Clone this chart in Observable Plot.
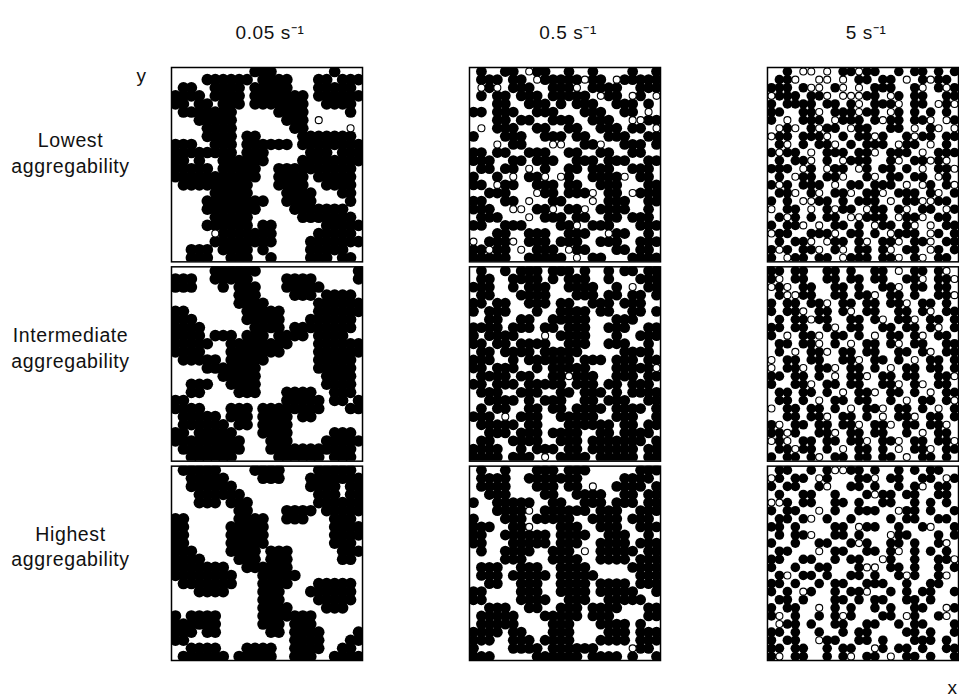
<!DOCTYPE html>
<html>
<head>
<meta charset="utf-8">
<script src="https://cdn.jsdelivr.net/npm/d3@7"></script>
<script src="https://cdn.jsdelivr.net/npm/@observablehq/plot@0.6"></script>
<style>
  html, body { margin: 0; padding: 0; background: #fff; overflow: hidden; }
  #chart { width: 959px; height: 697px; }
</style>
</head>
<body>
<div id="chart"></div>
<script>
// Facet categories
const shearRates = ["0.05 s⁻¹", "0.5 s⁻¹", "5 s⁻¹"];
const aggregability = ["Lowest\naggregability", "Intermediate\naggregability", "Highest\naggregability"];
const axisLabels = ["y", "x"];

// Particle maps: '#' aggregated (filled) particle, 'o' free (open) particle, '.' empty
const lowest_005 = [
  "..........###.......#...",
  "....######.####...##.###",
  ".##..####.#####...#####.",
  "####.####.#######.######",
  "##.##.###.#######..####.",
  ".#######.....####.....#.",
  "...#####......###.o.....",
  "....####.......##.....o.",
  "....####.##.....#######.",
  "###..###.######.########",
  "########.###.....###.###",
  "##.#..######....########",
  "#####.#####..##########.",
  "###########..####.#####.",
  ".#########...####..####.",
  ".....#####....####...##.",
  "....########..####....#.",
  "....#######....#######..",
  ".....#####......#######.",
  "....######.##......#####",
  ".....o#######.....#####.",
  ".....########....#######",
  "..###.####.#.....#####..",
  "..###..###..#....###.##."
];
const lowest_05 = [
  ".#..##.o##..#..#....#..#",
  ".###.##.o#####o##.o#####",
  ".o#o.###..###o.####..###",
  ".#.##.###.#####.o##.o#.o",
  "...##..###.#.###..###.#.",
  "##.###..###...###..##.o.",
  "...##.##..###..###..oo##",
  ".o.###..##..##..###.##.o",
  "#...###..###.##..###..##",
  "...o.##...oo..##o..###.#",
  "##.##..###..##..##..##..",
  "###..##.###..###.###..##",
  ".##.##.o.#..##.###..###.",
  "#..#.o.##o.o#..####o.##.",
  "##.o##..###.##..###...##",
  "..###...o##.###o.##.o###",
  "##..##.o..##...o.###..##",
  "###..oo.##o.##o.####..#.",
  ".###...o.###.##..##.###.",
  "##..###....##o.###...###",
  "...##..###..###..o##..#.",
  "o.###o.###.###..###..###",
  "##o##.o.###.o##...##.##.",
  "#####..#####.o.##...####"
];
const lowest_5 = [
  "..#.oo.o.##o##..#.##.#.#",
  ".##o..oo.o.##.##.o.#o##.",
  "###.#oo.#o.o.###..#o.#o#",
  "o###.##o.ooo##.o#.##..##",
  "#.####.##.#o.###o.##.o#o",
  "##..##o.###o##.o#.#.#.#.",
  "#.o.###.o###.#o##.##o.o#",
  ".o#o.#o##.o##..##.o.#o.o",
  "o##.###o.#.##o#..#o##.##",
  ".#o.#.##o.#.###.o##.o.#.",
  "#o##.o.###.##o.###.o.###",
  ".#.##o.#.o###..#o.##o#o.",
  "###.o#.o##.o#.##.#.o.##o",
  ".#.o##.##o..#o.##.##.o#.",
  "#o#.###.o.##.###.o.o#.#o",
  ".##o.#o.##o.##o.###.#o.#",
  "#.#.oo##.#.###.o.##oo##.",
  "o.##.o.#o##.o##.#o.##.o#",
  ".#o#.#.##.oo###.o##o.##.",
  "#.##o.o.##.#.o##.#o.o.##",
  "o##..###o.##.#.o###.o#.#",
  ".#.##o.o##.#o.##o.##o.##",
  "#o#.##o.#o.##.#o.##.o#.#",
  "#.o##.##.o###.##o.#o.##."
];
const intermediate_005 = [
  ".....######............#",
  "###..#####....####.....#",
  "###...#.###...#####.....",
  "........###....###.####.",
  "........####......######",
  "##.......#####....######",
  "###......#####...######.",
  "####......####.########.",
  "####.###.###.####.####..",
  "#####..########...######",
  "####...#######....######",
  ".#####.#####......#####.",
  "....#######.......#####.",
  "......#####........####.",
  "..###..####........####.",
  "..##....###...####..###.",
  "##............#####.##.#",
  "####...###.########...##",
  ".#####.###.####.##......",
  ".######.##.####.........",
  "##.#####...####.....###.",
  "#########...###....#####",
  ".########...###########.",
  "..######.....######.###."
];
const intermediate_05 = [
  ".#..#.###.###.#..#.##.##",
  ".##..####.#.###..#...###",
  "###..#.###..####..#.o.##",
  ".##...####...###.##.##.#",
  "##.##..###.##..###.###..",
  "#.###...#..####.##..##.#",
  "..##..##..#####...###...",
  "####.###.##.###..###..##",
  "#.####...o.####...#..###",
  "##.##.####..###..###..#.",
  ".##.####.#####.....####.",
  "###..#.######.###.###.##",
  "##.###..#.#####...#####o",
  ".####.##..##o###..###.##",
  "##.###.#####.###.##.###.",
  ".###..###..##.###.#.####",
  "..####.#.###..##.###..##",
  ".#.##..##.##.####.####.#",
  "###.o.###..#####..###..#",
  ".#####.##...######.##.##",
  "..###.###.####..##.####.",
  ".##..####..###.#######.#",
  "####..#.###.##.######.##",
  "####.###.o.####.#####.##"
];
const intermediate_5 = [
  "##.##..##.#..##.o.##.#o.",
  "#o.##..##.##.##..##o.##o",
  "o#o.##..##.#..##o.##.##.",
  ".#oo##..##.##o.##.#..##o",
  "#.##.##o.##.##.##o.##.#.",
  "#.##o.##.#o.##..##.#o.##",
  ".#.##o##..##.#o.##o.##.#",
  "##.##..#o.##..##.##.#o.#",
  "#.o.##o.##.#.o.##.#o.##.",
  ".##.##o.#.o.##.#o.##..##",
  ".#.o.##o.##.##..##.#o.##",
  "o.##.##..##o.##.#.o.##.#",
  "o.##o.##o.##.#.o.##.##.#",
  "##.##.#.o.##o.##.##..##o",
  "#..##o.##.##..##o.#o.##.",
  ".##.##.#.o.##o.##.#.o.##",
  ".##.#.o.##.##..#.o.##.#o",
  "o.##.##.#.o.##o.##.#.o.#",
  "..##.##o.##.#.o.##o.##.#",
  "#o.##.##.##o.##o.##.##o.",
  "##o#..##o.##.##..#.o.##.",
  "o#o.##.##.##o.##o.##.##o",
  ".##o##.#.o.##.#.o.##o.##",
  "#.##.#o.##.##.##.o.##.#."
];
const highest_005 = [
  ".#####....####....#####.",
  "..#####....###...#######",
  "..######.........####.##",
  "...######.........###.##",
  "...###.###........######",
  "........##....####.#####",
  "##......####..###...###.",
  "##.....#####........####",
  "##.....#####........####",
  "##.....#####........###.",
  "###....####.###......###",
  "####....###.###......##.",
  "#######..######.........",
  "########...#####........",
  ".#######...####...#####.",
  "...####....###...######.",
  "...........###....#####.",
  "...........####....###..",
  "#.####.....#######......",
  "######.....###.###......",
  "###.##......##.####....#",
  "##.............####...##",
  "..####...####..####..##.",
  ".######.#####..###..####"
];
const highest_05 = [
  ".#..#...###.###......###",
  ".####..#######.....####.",
  ".####...###.##.o..####.#",
  "..###....##..####..##.##",
  "#..#####..##..###.###.##",
  "...####o.######.###..###",
  "#...###.#####..####.###.",
  "###..##o...###..###..###",
  "##..######.####..###..#.",
  "##...#####.###..####.###",
  ".#..####..###.o.#####.##",
  "....###...####..####.###",
  ".###..###..####.....####",
  ".###.#####.#####.....###",
  "..##..###..####.####.###",
  "##....###..####.#####..#",
  "##....####..###..#####..",
  "..###..##..###.####...##",
  ".#####...#####.###....##",
  ".#####....###...####.#..",
  "####.##...###....###.###",
  "###..###.####...####.###",
  "#....####.######....o##.",
  "###.....######.####.#..#"
];
const highest_5 = [
  ".##..#.#oo##.#..#.#.##..",
  "o#.##.o#...##o.##..##.o#",
  "#.##..#o..##.#..#.#o.##.",
  ".#..##..#...#o##.##..##.",
  "oo#.##..##.#..##..#.#.#.",
  "#.##..o.#..###..o##.#..#",
  ".##.#o.#..#....#.##..##.",
  "##.#....##.o##..#..#o..#",
  ".#.##o..##.#...o##...#.#",
  "#..#..##..#o#..##.#..#o.",
  ".##...o.##..##.#o.#.#.#.",
  "##..##..#.##..o#..#..##o",
  "#..#..##...#oo.##.#..#.#",
  ".#o.##.#..##.#..#o#..#o.",
  "##.#..#.##..###..#..##..",
  "#.#.o#..#.##o..#.#.##..#",
  ".##.#...##.#.##..##.#...",
  "#.##..o.#.#..#.#..##..o#",
  "#o.#..#.#o#...##.o#..#o.",
  ".o##.#..##..##..#.##...#",
  "##.#..#..#.##....##.#..#",
  "#.##..o##..##.#...###.#.",
  "##.##..#.##..o#.##.#..##",
  "#o.##..#.#o.##.o.##.#..#"
];

const GRID = 24;
const panels = [
  [shearRates[0], aggregability[0], lowest_005],
  [shearRates[1], aggregability[0], lowest_05],
  [shearRates[2], aggregability[0], lowest_5],
  [shearRates[0], aggregability[1], intermediate_005],
  [shearRates[1], aggregability[1], intermediate_05],
  [shearRates[2], aggregability[1], intermediate_5],
  [shearRates[0], aggregability[2], highest_005],
  [shearRates[1], aggregability[2], highest_05],
  [shearRates[2], aggregability[2], highest_5]
];

const particles = [];
for (const [shear, agg, grid] of panels) {
  grid.forEach((line, r) => {
    for (let c = 0; c < line.length; ++c) {
      const ch = line[c];
      if (ch === "#" || ch === "o") {
        particles.push({shear, agg, x: c + 0.5, y: r + 0.5, aggregated: ch === "#"});
      }
    }
  });
}
const filled = particles.filter(d => d.aggregated);
const free = particles.filter(d => !d.aggregated);

const colLabels = shearRates.map(s => ({shear: s, agg: aggregability[0], text: s}));
const rowLabels = aggregability.map(a => ({shear: shearRates[0], agg: a, text: a}));
const yLabel = [{shear: shearRates[0], agg: aggregability[0], text: axisLabels[0]}];
const xLabel = [{shear: shearRates[2], agg: aggregability[2], text: axisLabels[1]}];

const font = "'Liberation Sans', Arial, Helvetica, sans-serif";
const rowText = {fx: "shear", fy: "agg", text: "text", frameAnchor: "left", textAnchor: "middle", lineAnchor: "middle", lineHeight: 1.32, dx: -101, fontSize: 19.5, fill: "#111"};

const chart = Plot.plot({
  width: 959,
  height: 697,
  marginLeft: 171,
  marginRight: 1,
  marginTop: 67,
  marginBottom: 37,
  style: {fontFamily: font, background: "white", color: "#111", letterSpacing: "0.6px"},
  x: {domain: [0, GRID], axis: null},
  y: {domain: [0, GRID], axis: null, reverse: true},
  fx: {domain: shearRates, padding: 0.359, axis: null, round: false},
  fy: {domain: aggregability, padding: 0.025, axis: null, round: false},
  marks: [
    Plot.dot(filled.filter(d => d.shear === shearRates[0]), {x: "x", y: "y", fx: "shear", fy: "agg", r: 5.8, fill: "#000", stroke: "none", clip: "frame"}),
    Plot.dot(filled.filter(d => d.shear === shearRates[1]), {x: "x", y: "y", fx: "shear", fy: "agg", r: 5.4, fill: "#000", stroke: "none", clip: "frame"}),
    Plot.dot(filled.filter(d => d.shear === shearRates[2]), {x: "x", y: "y", fx: "shear", fy: "agg", r: 4.8, fill: "#000", stroke: "none", clip: "frame"}),
    Plot.dot(free, {x: "x", y: "y", fx: "shear", fy: "agg", r: 3.5, fill: "#fff", stroke: "#000", strokeWidth: 1.1, clip: "frame"}),
    Plot.frame({stroke: "#000", strokeWidth: 1.5}),
    Plot.text(colLabels, {fx: "shear", fy: "agg", text: "text", frameAnchor: "top", textAnchor: "middle", lineAnchor: "bottom", dy: -29, dx: 3, fontSize: 19, fill: "#111"}),
    Plot.text(rowLabels.slice(0, 1), {...rowText, dy: -13}),
    Plot.text(rowLabels.slice(1, 2), {...rowText, dy: -17}),
    Plot.text(rowLabels.slice(2, 3), {...rowText, dy: -18}),
    Plot.text(yLabel, {fx: "shear", fy: "agg", text: "text", frameAnchor: "top-left", textAnchor: "start", lineAnchor: "bottom", dx: -35, dy: 14, fontSize: 19, fill: "#111"}),
    Plot.text(xLabel, {fx: "shear", fy: "agg", text: "text", frameAnchor: "bottom-right", textAnchor: "start", lineAnchor: "bottom", dx: -11, dy: 33, fontSize: 19, fill: "#111"})
  ]
});
document.getElementById("chart").appendChild(chart);
</script>
</body>
</html>
